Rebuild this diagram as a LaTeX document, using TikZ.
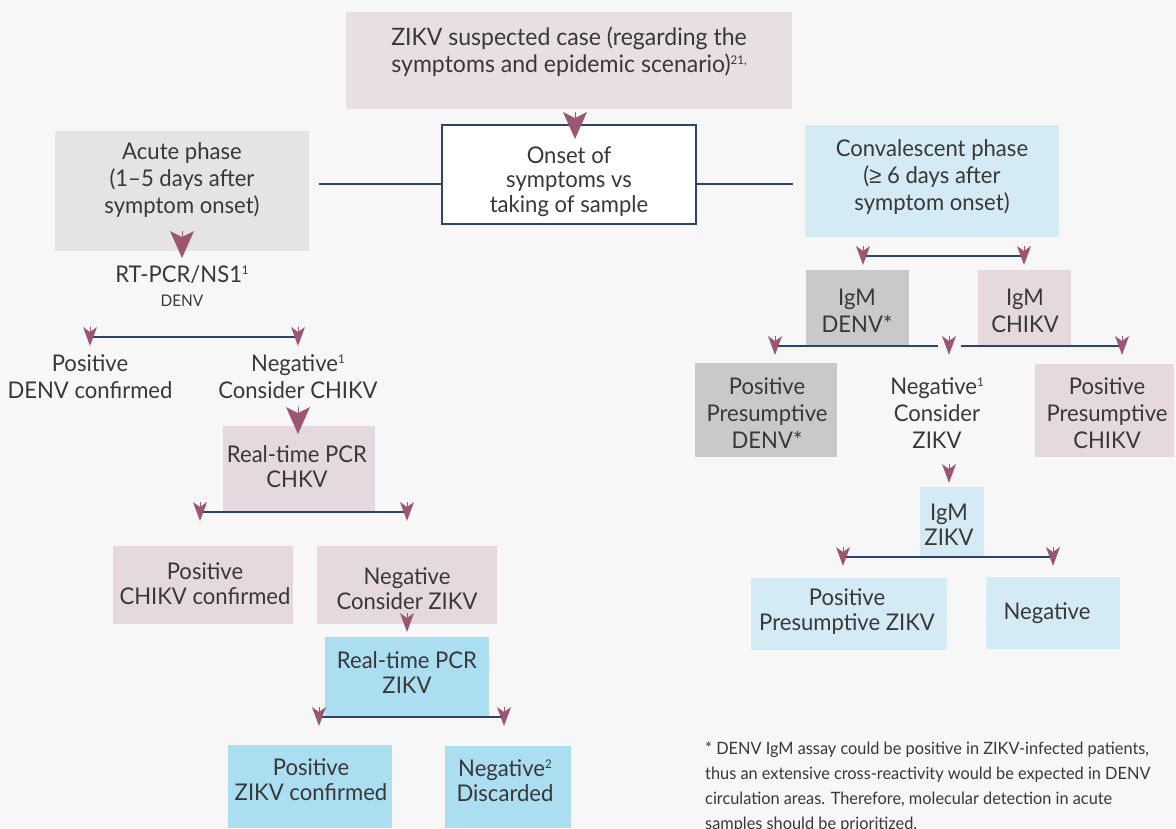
\documentclass[tikz,border=0pt]{standalone}
\usepackage{fontspec}
\setmainfont{Lato}[FakeStretch=0.96]
\newfontfamily\symfont{Liberation Sans}[FakeStretch=0.96]
\usetikzlibrary{arrows.meta}

% small raised footnote marks
\newcommand\fnmark[1]{\raisebox{8pt}{\fontsize{12}{12}\selectfont #1}}

\definecolor{bgc}{HTML}{F7F7F7}
\definecolor{pinkA}{HTML}{E8DFE3}
\definecolor{pinkB}{HTML}{E6D8DF}
\definecolor{grayA}{HTML}{E4E4E4}
\definecolor{grayB}{HTML}{C9C9C9}
\definecolor{blueA}{HTML}{D4EBF5}
\definecolor{blueB}{HTML}{ABDEF1}
\definecolor{navy}{HTML}{2D4373}
\definecolor{mauve}{HTML}{9C5672}
\definecolor{ink}{HTML}{383838}

% text nodes are placed by the baseline of their last line
\tikzset{
  box/.style={rectangle, draw=none, inner sep=0pt, outer sep=0pt, anchor=north west},
  txt/.style={align=center, inner sep=0pt, anchor=base, text=ink,
    font=\fontsize{23}{25}\selectfont},
  wide/.style={font=\fontsize{23}{27}\selectfont},
  link/.style={draw=navy, line width=2pt},
  thinlink/.style={draw=navy, line width=1.4pt},
  bigarr/.style={draw=mauve, line width=0pt, -{Stealth[length=27pt, width=24pt, inset=6pt, fill=mauve]}},
  smallarr/.style={draw=mauve, line width=0pt, -{Stealth[length=19pt, width=14pt, inset=5pt, fill=mauve]}},
}

\begin{document}
\begin{tikzpicture}[x=1pt, y=-1pt]
\useasboundingbox (0,0) rectangle (1176,828);
\fill[bgc] (0,0) rectangle (1176,828);

% ---------- boxes ----------
\node[box, fill=pinkA, minimum width=446, minimum height=97] (top) at (346,12) {};
\node[box, fill=grayA, minimum width=254, minimum height=120] (acute) at (55,131) {};
\node[box, fill=blueA, minimum width=254, minimum height=112] (conv) at (805,125) {};
\node[box, fill=white, draw=navy, line width=2pt, minimum width=254, minimum height=99] (onset) at (442,125) {};

\node[box, fill=grayB, minimum width=103, minimum height=77] (igmD) at (806,270) {};
\node[box, fill=pinkB, minimum width=93, minimum height=76] (igmC) at (978,270) {};
\node[box, fill=grayB, minimum width=142, minimum height=94] (ppD) at (695,363) {};
\node[box, fill=pinkB, minimum width=139, minimum height=93] (ppC) at (1035,364) {};
\node[box, fill=blueA, minimum width=64, minimum height=71] (igmZ) at (920,487) {};
\node[box, fill=blueA, minimum width=196, minimum height=72] (ppZ) at (751,578) {};
\node[box, fill=blueA, minimum width=134, minimum height=72] (negR) at (986,577) {};

\node[box, fill=pinkB, minimum width=152, minimum height=85] (rtC) at (223,426) {};
\node[box, fill=pinkB, minimum width=180, minimum height=78] (posC) at (113,546) {};
\node[box, fill=pinkB, minimum width=180, minimum height=78] (negC) at (317,546) {};
\node[box, fill=blueB, minimum width=164, minimum height=80] (rtZ) at (325,637) {};
\node[box, fill=blueB, minimum width=164, minimum height=83] (posZ) at (228,745) {};
\node[box, fill=blueB, minimum width=126, minimum height=82] (negZ) at (445,746) {};

% ---------- branch points ----------
\coordinate (acR) at (319,184);
\coordinate (cvL) at (793,184);
\coordinate (b1l) at (90,337);   \coordinate (b1r) at (298,337);
\coordinate (b2l) at (200,512);  \coordinate (b2r) at (407,512);
\coordinate (b3l) at (319,717);  \coordinate (b3r) at (504,717);
\coordinate (r1l) at (863,256);  \coordinate (r1r) at (1024,256);
\coordinate (r2l) at (775,346);  \coordinate (r2m) at (949,346);  \coordinate (r2r) at (1122,346);
\coordinate (r2a) at (938,346);  \coordinate (r2b) at (961,346);
\coordinate (r3l) at (843,557);  \coordinate (r3r) at (1053,557);

% ---------- connectors ----------
\draw[thinlink] (acR) -- (acR -| onset.west);
\draw[thinlink] (cvL -| onset.east) -- (cvL);
\draw[link] (b1l) -- (b1r);
\draw[link] (b2l) -- (b2r);
\draw[link] (b3l) -- (b3r);
\draw[link] (r1l) -- (r1r);
\draw[link] (r2l) -- (r2a);
\draw[link] (r2b) -- (r2r);
\draw[link] (r3l) -- (r3r);

% big heads
\coordinate (h1a) at (575,112);  \coordinate (h1b) at (575,139);
\coordinate (h2a) at (182,231);  \coordinate (h2b) at (182,258);
\coordinate (h3a) at (298,407);  \coordinate (h3b) at (298,434);
\draw[bigarr] (h1a) -- (h1b);
\draw[bigarr] (h2a) -- (h2b);
\draw[bigarr] (h3a) -- (h3b);

% small heads on the branch lines
\foreach \p in {b1l,b1r,b2l,b2r,b3l,b3r,r1l,r1r,r2l,r2m,r2r,r3l,r3r}
  \draw[smallarr] ([yshift=10pt]\p) -- ([yshift=-9pt]\p);
% single small heads
\coordinate (h4a) at (407,613);  \coordinate (h4b) at (407,632);
\coordinate (h5a) at (949,464);  \coordinate (h5b) at (949,483);
\draw[smallarr] (h4a) -- (h4b);
\draw[smallarr] (h5a) -- (h5b);

% ---------- texts ----------
\node[txt, font=\fontsize{24}{27}\selectfont] (topT) at (569,72)
  {ZIKV suspected case (regarding the\\symptoms and epidemic scenario)\fnmark{21,}};
\node[txt, font=\fontsize{23}{24.5}\selectfont] (onsetT) at (569,212) {Onset of\\symptoms vs\\taking of sample};
\node[txt, wide] (acuteT) at (182,213) {Acute phase\\(1–5 days after\\symptom onset)};
\node[txt, wide] (convT) at (932,210) {Convalescent phase\\({\symfont ≥} 6 days after\\symptom onset)};

\node[txt] (rtpcr) at (182,282) {RT-PCR/NS1\fnmark{1}};
\node[txt, font=\fontsize{16}{18}\selectfont] (denv) at (182,306) {DENV};
\node[txt, wide] (posD) at (90,398) {Positive\\DENV confirmed};
\node[txt, wide] (negD) at (298,398) {Negative\fnmark{1}\\Consider CHIKV};

\node[txt] (rtCT) at (297,487) {Real-time PCR\\CHKV};
\node[txt] (posCT) at (205,604) {Positive\\CHIKV confirmed};
\node[txt] (negCT) at (407,609) {Negative\\Consider ZIKV};
\node[txt] (rtZT) at (407,693) {Real-time PCR\\ZIKV};
\node[txt] (posZT) at (311,800) {Positive\\ZIKV confirmed};
\node[txt] (negZT) at (505,801) {Negative\fnmark{2}\\Discarded};

\node[txt, wide] (igmDT) at (857,332) {IgM\\DENV*};
\node[txt, wide] (igmCT) at (1025,332) {IgM\\CHIKV};
\node[txt, wide] (ppDT) at (767,448) {Positive\\Presumptive\\DENV*};
\node[txt, wide] (negZc) at (937,448) {Negative\fnmark{1}\\Consider\\ZIKV};
\node[txt, wide] (ppCT) at (1107,448) {Positive\\Presumptive\\CHIKV};
\node[txt] (igmZT) at (949,545) {IgM\\ZIKV};
\node[txt] (ppZT) at (847,630) {Positive\\Presumptive ZIKV};
\node[txt] (negRT) at (1047,619) {Negative};

\node[txt, align=left, anchor=base west, font=\fontsize{17}{25}\selectfont] (note) at (705,829)
  {* DENV IgM assay could be positive in ZIKV-infected patients,\\
   thus an extensive cross-reactivity would be expected in DENV\\
   circulation areas. Therefore, molecular detection in acute\\
   samples should be prioritized.};
\end{tikzpicture}
\end{document}
